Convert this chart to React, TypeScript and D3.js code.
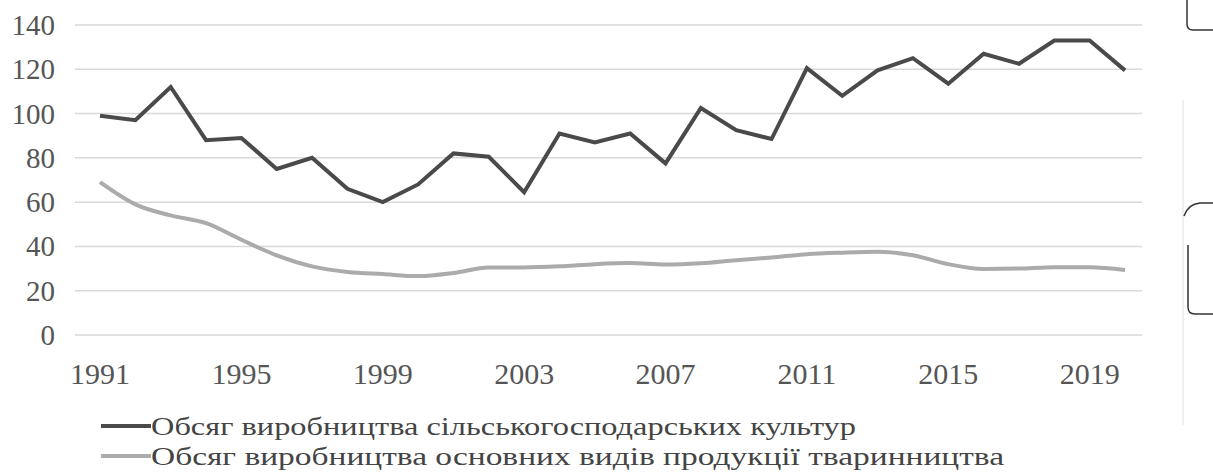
import * as d3 from 'd3';

const years = d3.range(1991, 2021);
const tickYears = [1991, 1995, 1999, 2003, 2007, 2011, 2015, 2019];
const yTicks = [0, 20, 40, 60, 80, 100, 120, 140];

// crop production volume
const cropValues = [
  99, 97, 112, 88, 89, 75, 80, 66, 60, 68,
  82, 80.5, 64.5, 91, 87, 91, 77.5, 102.5, 92.5, 88.5,
  120.5, 108, 119.5, 125, 113.5, 127, 122.5, 133, 133, 119.5,
];
// livestock production volume
const livestockValues = [
  69, 59, 54, 50.5, 43, 36, 31, 28.5, 27.5, 26.6,
  28, 30.5, 30.5, 31, 32, 32.5, 31.8, 32.4, 33.8, 35,
  36.5, 37.2, 37.6, 36, 32, 29.8, 30, 30.6, 30.6, 29.4,
];
const seriesNames = [
  'Обсяг виробництва сільськогосподарських культур',
  'Обсяг виробництва основних видів продукції тваринництва',
];
const legendWidths = [705, 853];

const W = 1213;
const H = 472;
const SERIF = 'Liberation Serif';

export default function App() {
  const x = d3.scalePoint<number>().domain(years).range([100, 1125]);
  const y = d3.scaleLinear().domain([0, 140]).range([335, 25]);

  const cropLine = d3
    .line<number>()
    .x((_, i) => x(years[i])!)
    .y(d => y(d));
  const livestockLine = d3
    .line<number>()
    .x((_, i) => x(years[i])!)
    .y(d => y(d))
    .curve(d3.curveMonotoneX);

  const colors = ['#4a4a4a', '#ababab'];
  const s = { fontFamily: SERIF };

  return (
    <svg
      width={W}
      height={H}
      fontFamily={SERIF}
      style={{ position: 'absolute', left: 0, top: 0, background: '#fff', fontFamily: SERIF }}
    >
      {/* grid */}
      {yTicks.map(t => (
        <line key={t} x1={75} x2={1142} y1={y(t)} y2={y(t)} stroke="#d9d9d9" strokeWidth={1.5} />
      ))}
      {yTicks.map(t => (
        <text key={'l' + t} x={55} y={y(t) + 10} fontSize={29} fontFamily={SERIF} textAnchor="end" fill="#555" style={s}>
          {t}
        </text>
      ))}
      {tickYears.map(yr => (
        <text key={yr} x={x(yr)} y={384} fontSize={30} fontFamily={SERIF} textAnchor="middle" fill="#555" style={s}>
          {yr}
        </text>
      ))}

      <path d={livestockLine(livestockValues) || ''} fill="none" stroke={colors[1]} strokeWidth={4} />
      <path d={cropLine(cropValues) || ''} fill="none" stroke={colors[0]} strokeWidth={4} />

      {/* legend */}
      {seriesNames.map((name, i) => (
        <g key={name} transform={`translate(101, ${426 + i * 30})`}>
          <line x1={0} x2={50} y1={0} y2={0} stroke={colors[i]} strokeWidth={4} />
          <text
            x={50}
            y={9}
            fontSize={26}
            fontFamily={SERIF}
            fill="#444"
            style={s}
            textLength={legendWidths[i]}
            lengthAdjust="spacingAndGlyphs"
          >
            {name}
          </text>
        </g>
      ))}

      {/* scan artifacts at the right edge */}
      <line x1={1183} x2={1183} y1={100} y2={425} stroke="#e0e0e0" strokeWidth={1} />
      <path d="M1187,0 V24 Q1187,30 1193,30 H1213" fill="none" stroke="#333" strokeWidth={1.5} />
      <path d="M1184,216 Q1188,204 1200,203 H1213" fill="none" stroke="#333" strokeWidth={1.5} />
      <path d="M1188,245 V307 Q1188,314 1195,314 H1213" fill="none" stroke="#333" strokeWidth={1.5} />
    </svg>
  );
}
